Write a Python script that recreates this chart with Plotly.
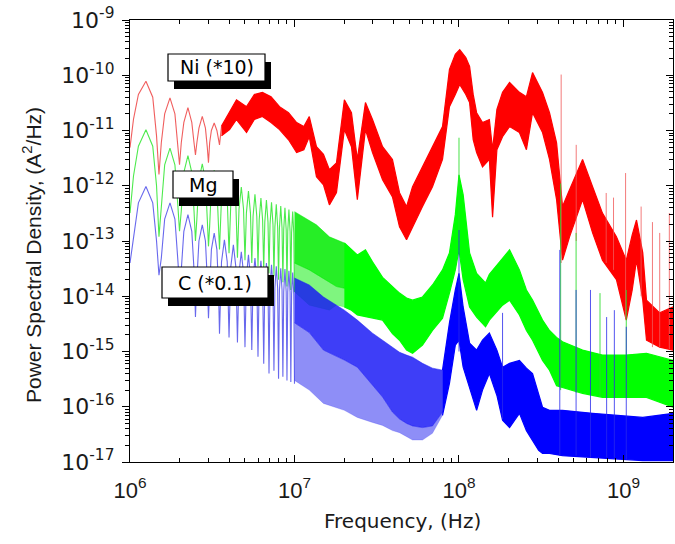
import plotly.graph_objects as go

# ---------------- data ----------------
# Ni (*10): low-frequency lobes
ni_lobe_f = [1.0e6, 1.05e6, 1.125e6, 1.25e6, 1.375e6, 1.45e6, 1.5e6,
             1.55e6, 1.625e6, 1.75e6, 1.875e6, 1.95e6, 2.0e6,
             2.05e6, 2.125e6, 2.25e6, 2.375e6, 2.45e6, 2.5e6,
             2.55e6, 2.625e6, 2.75e6, 2.875e6, 2.95e6, 3.0e6,
             3.05e6, 3.125e6, 3.25e6, 3.375e6, 3.45e6, 3.5e6, 3.6e6]
ni_lobe_p = [4.9e-12, 1.6e-11, 4.5e-11, 7.8e-11, 4.0e-11, 8e-12, 1.6e-12,
             6e-12, 2.0e-11, 3.9e-11, 2.0e-11, 6e-12, 2.4e-12,
             6e-12, 1.4e-11, 2.6e-11, 1.4e-11, 6e-12, 3.6e-12,
             6e-12, 1.1e-11, 1.8e-11, 1.1e-11, 5e-12, 2.6e-12,
             6e-12, 1.0e-11, 1.37e-11, 1.0e-11, 7e-12, 5.5e-12, 1.2e-11]
# Ni (*10): noisy band (upper / lower envelope)
ni_band_f = [3.6e6, 4.03e6, 4.44e6, 5.11e6, 5.7e6, 6.38e6, 7.2e6, 8.11e6, 9.2e6, 1.03e7,
             1.14e7, 1.23e7, 1.36e7, 1.5e7, 1.63e7, 1.8e7, 2.01e7, 2.22e7, 2.41e7, 2.7e7,
             2.98e7, 3.43e7, 3.94e7, 4.35e7, 4.8e7, 5.22e7, 6.0e7, 6.9e7, 7.94e7, 8.75e7,
             9.5e7, 1.01e8, 1.1e8, 1.16e8, 1.22e8, 1.28e8, 1.39e8, 1.53e8, 1.6e8, 1.7e8,
             1.84e8, 2.03e8, 2.33e8, 2.57e8, 2.8e8, 3.22e8, 3.55e8, 3.92e8, 4.26e8, 4.7e8,
             5.64e8, 6.49e8, 7.45e8, 9.06e8, 1.04e9, 1.13e9, 1.2e9, 1.31e9, 1.38e9, 1.66e9, 2.0e9]
ni_upper = [1.2e-11, 2.1e-11, 3.6e-11, 2.7e-11, 4.5e-11, 4.9e-11, 4.1e-11, 2.7e-11, 2.1e-11, 1.39e-11,
            1.18e-11, 1.79e-11, 5.1e-12, 3.7e-12, 1.95e-12, 2.6e-12, 3.6e-11, 2.1e-11, 3.0e-12, 3.2e-11,
            1.58e-11, 5.1e-12, 3.0e-12, 7.5e-13, 4.2e-13, 9.6e-13, 2.2e-12, 5.1e-12, 1.18e-11, 1.27e-10,
            2.4e-10, 2.9e-10, 2.1e-10, 1.45e-10, 4.5e-11, 2.1e-11, 1.39e-11, 1.58e-11, 4.5e-12, 2.4e-11,
            4.9e-11, 7.4e-11, 4.9e-11, 4.1e-11, 1.12e-10, 4.9e-11, 2.1e-11, 6.0e-12, 4.2e-13, 8.5e-13,
            3.0e-12, 9.6e-13, 3.2e-13, 1.19e-13, 4.5e-14, 1.29e-13, 2.4e-13, 6.1e-14, 8.5e-15, 5.0e-15, 6.4e-15]
ni_lower = [8e-12, 1.04e-11, 1.58e-11, 9.2e-12, 1.58e-11, 1.79e-11, 1.39e-11, 1.04e-11, 6.8e-12, 4.0e-12,
            4.5e-12, 7.7e-12, 1.46e-12, 1.04e-12, 4.5e-13, 7.5e-13, 1.04e-11, 5.1e-12, 5.6e-13, 1.04e-11,
            4.0e-12, 1.28e-12, 6.3e-13, 1.8e-13, 1.05e-13, 1.8e-13, 4.2e-13, 9.6e-13, 3.0e-12, 2.7e-11,
            4.5e-11, 6.8e-11, 4.5e-11, 3.2e-11, 6.8e-12, 4.0e-12, 2.2e-12, 3.0e-12, 2.7e-13, 4.5e-12,
            7.7e-12, 1.18e-11, 9.2e-12, 4.5e-12, 2.1e-11, 9.2e-12, 3.0e-12, 5.6e-13, 4.5e-14, 1.19e-13,
            5.6e-13, 1.4e-13, 4.5e-14, 2.0e-14, 3.7e-15, 1.3e-14, 4.5e-14, 8.5e-15, 1.6e-15, 1.2e-15, 1.06e-15]
ni_spike_f = [4.18e8, 5.16e8, 7.85e8, 8.7e8, 1.03e9, 1.28e9, 1.5e9, 1.66e9, 1.9e9]
ni_spike_top = [1.03e-10, 5.5e-12, 7.4e-13, 6.1e-13, 1.7e-12, 4.2e-13, 2.2e-13, 1.4e-13, 3.2e-13]
ni_spike_base = [4e-14, 1e-13, 4e-14, 3e-14, 4e-15, 1e-14, 1.2e-15, 1.2e-15, 1.1e-15]

# Mg: low-frequency lobes
mg_lobe_f = [1.0e6, 1.05e6, 1.125e6, 1.25e6, 1.375e6, 1.45e6, 1.5e6,
             1.55e6, 1.625e6, 1.75e6, 1.875e6, 1.95e6, 2.0e6,
             2.05e6, 2.125e6, 2.25e6, 2.375e6, 2.45e6, 2.5e6,
             2.55e6, 2.625e6, 2.75e6, 2.875e6, 2.95e6, 3.0e6,
             3.05e6, 3.125e6, 3.25e6, 3.375e6, 3.45e6, 3.5e6,
             3.6e6, 3.75e6, 3.9e6, 4.0e6, 4.1e6, 4.25e6, 4.4e6, 4.5e6,
             4.6e6, 4.75e6, 4.9e6, 5.0e6, 5.1e6, 5.25e6, 5.4e6, 5.5e6,
             5.6e6, 5.75e6, 5.9e6, 6.0e6, 6.1e6, 6.25e6, 6.4e6, 6.5e6,
             6.6e6, 6.75e6, 6.9e6, 7.0e6, 7.1e6, 7.25e6, 7.4e6, 7.5e6,
             7.6e6, 7.75e6, 7.9e6, 8.0e6, 8.1e6, 8.25e6, 8.4e6, 8.5e6,
             8.6e6, 8.75e6, 8.9e6, 9.0e6, 9.1e6, 9.25e6, 9.4e6, 9.5e6,
             9.6e6, 9.75e6, 9.9e6, 1.0e7]
mg_lobe_p = [3.2e-13, 1.5e-12, 5.2e-12, 1.03e-11, 5.2e-12, 1.0e-12, 1.2e-13,
             4.8e-13, 2.4e-12, 4.8e-12, 2.4e-12, 4.8e-13, 1.5e-13,
             3.5e-13, 1.75e-12, 3.5e-12, 1.75e-12, 3.5e-13, 1.0e-13,
             2.5e-13, 1.25e-12, 2.5e-12, 1.25e-12, 2.5e-13, 8e-14,
             1.9e-13, 9.5e-13, 1.9e-12, 9.5e-13, 1.9e-13, 7e-14,
             6e-13, 1.5e-12, 6e-13, 6e-14, 4.8e-13, 1.2e-12, 4.8e-13, 5e-14,
             3.8e-13, 9.5e-13, 3.8e-13, 4.5e-14, 3.2e-13, 8e-13, 3.2e-13, 4e-14,
             2.8e-13, 7e-13, 2.8e-13, 3.5e-14, 2.4e-13, 6e-13, 2.4e-13, 3e-14,
             2.2e-13, 5.5e-13, 2.2e-13, 2.6e-14, 2e-13, 5e-13, 2e-13, 2.3e-14,
             1.8e-13, 4.6e-13, 1.8e-13, 2e-14, 1.7e-13, 4.3e-13, 1.7e-13, 1.8e-14,
             1.6e-13, 4e-13, 1.6e-13, 1.5e-14, 1.5e-13, 3.7e-13, 1.5e-13, 1.3e-14,
             1.4e-13, 3.4e-13, 1.4e-13, 1.2e-14]
# Mg: dense-lobe region (upper / mid / lower)
mg_dense_f = [1.0e7, 1.23e7, 1.36e7, 1.63e7, 1.8e7, 2.01e7, 2.22e7]
mg_dense_upper = [3.4e-13, 2.4e-13, 1.96e-13, 1.19e-13, 1.05e-13, 9.2e-14, 6.9e-14]
mg_dense_mid = [4e-14, 3e-14, 2.5e-14, 1.8e-14, 1.5e-14, 1.4e-14, 1.2e-14]
mg_dense_lower = [1.2e-14, 6.9e-15, 6.4e-15, 5.6e-15, 6.9e-15, 6.4e-15, 5.6e-15]
# Mg: noisy band
mg_band_f = [2.01e7, 2.22e7, 2.41e7, 2.7e7, 2.98e7, 3.43e7, 3.94e7, 4.35e7, 4.8e7, 5.22e7,
             6.0e7, 6.9e7, 7.94e7, 8.75e7, 9.5e7, 1.0e8, 1.06e8, 1.16e8, 1.28e8, 1.45e8,
             1.53e8, 1.84e8, 2.03e8, 2.33e8, 2.57e8, 2.8e8, 3.22e8, 3.55e8, 3.92e8, 4.26e8,
             5.64e8, 7.45e8, 1.04e9, 1.38e9, 2.0e9]
mg_upper = [9.2e-14, 6.9e-14, 5.6e-14, 6.9e-14, 4.2e-14, 2.2e-14, 1.47e-14, 1.14e-14, 9.3e-15, 8.5e-15,
            9.7e-15, 1.6e-14, 3.0e-14, 6.1e-14, 3.0e-13, 1.58e-12, 6.9e-13, 6.1e-14, 2.6e-14, 1.74e-14,
            2.5e-14, 4.9e-14, 6.9e-14, 3.0e-14, 1.3e-14, 8.5e-15, 3.7e-15, 2.4e-15, 1.8e-15, 1.5e-15,
            1.06e-15, 8.6e-16, 8.6e-16, 9.3e-16, 6.9e-16]
mg_lower = [6.4e-15, 5.6e-15, 4.6e-15, 4.2e-15, 4.0e-15, 3.7e-15, 2.1e-15, 1.6e-15, 1.06e-15, 9.3e-16,
            1.3e-15, 2.4e-15, 4.0e-15, 1.14e-14, 3.0e-14, 6.9e-14, 2.0e-14, 6.4e-15, 4.2e-15, 2.8e-15,
            3.7e-15, 6.9e-15, 8.5e-15, 4.6e-15, 2.4e-15, 1.6e-15, 6.9e-16, 4.6e-16, 2.4e-16, 2.2e-16,
            1.75e-16, 1.48e-16, 1.48e-16, 1.48e-16, 9.8e-17]
mg_spike_f = [1.0e8, 4.15e8, 5.15e8, 7.2e8, 1.04e9]
mg_spike_top = [7.4e-12, 1.1e-12, 1.4e-13, 1.14e-14, 1.3e-14]
mg_spike_base = [1e-13, 2e-16, 1.8e-16, 1.5e-16, 1.5e-16]

# C (*0.1): low-frequency lobes (same frequency points as Mg)
c_lobe_f = mg_lobe_f
c_lobe_p = [4.0e-14, 1.1e-13, 4.9e-13, 9.7e-13, 4.9e-13, 1.0e-13, 2.4e-14,
            4.9e-14, 2.5e-13, 4.9e-13, 2.5e-13, 4.9e-14, 1.6e-14,
            3.0e-14, 1.5e-13, 3.0e-13, 1.5e-13, 3.0e-14, 4.2e-15,
            2.0e-14, 1.0e-13, 1.96e-13, 1.0e-13, 2.0e-14, 4.0e-15,
            1.4e-14, 7e-14, 1.39e-13, 7e-14, 1.4e-14, 2.1e-15,
            4.2e-14, 1.05e-13, 4.2e-14, 1.8e-15, 3.4e-14, 8.5e-14, 3.4e-14, 1.45e-15,
            2.6e-14, 6.4e-14, 2.6e-14, 1.2e-15, 2.2e-14, 5.6e-14, 2.2e-14, 1.06e-15,
            2.0e-14, 4.9e-14, 2.0e-14, 8e-16, 1.8e-14, 4.4e-14, 1.8e-14, 6e-16,
            1.6e-14, 4.0e-14, 1.6e-14, 4e-16, 1.5e-14, 3.7e-14, 1.5e-14, 4.5e-16,
            1.4e-14, 3.5e-14, 1.4e-14, 3.2e-16, 1.3e-14, 3.2e-14, 1.3e-14, 3.5e-16,
            1.2e-14, 3.1e-14, 1.2e-14, 3e-16, 1.2e-14, 2.9e-14, 1.2e-14, 2.8e-16,
            1.1e-14, 2.7e-14, 1.1e-14, 2.6e-16]
# C: dense-lobe region (upper / mid / lower)
c_dense_f = [1.0e7, 1.23e7, 1.5e7, 2.01e7, 2.41e7, 2.98e7, 3.43e7, 3.94e7, 4.35e7, 4.8e7,
             5.22e7, 6.0e7, 6.9e7, 7.94e7]
c_dense_upper = [2.14e-14, 1.6e-14, 9.7e-15, 5.6e-15, 3.7e-15, 2.15e-15, 1.6e-15, 1.2e-15, 9.7e-16, 8.6e-16,
                 7.9e-16, 6.1e-16, 5.0e-16, 4.6e-16]
c_dense_mid = [3.3e-15, 2.2e-15, 1.06e-15, 7.0e-16, 5.2e-16, 2.5e-16, 1.5e-16, 8.0e-17, 6.0e-17, 5.0e-17,
               4.5e-17, 4.2e-17, 4.5e-17, 8.0e-17]
c_dense_lower = [3.0e-16, 2.0e-16, 1.15e-16, 8.6e-17, 6.4e-17, 5.2e-17, 4.6e-17, 3.7e-17, 3.4e-17, 2.9e-17,
                 2.5e-17, 2.5e-17, 3.3e-17, 7.0e-17]
# C: noisy band
c_band_f = [7.94e7, 8.75e7, 9.5e7, 1.0e8, 1.06e8, 1.16e8, 1.28e8, 1.39e8, 1.53e8, 1.7e8, 1.84e8,
            2.03e8, 2.33e8, 2.57e8, 2.8e8, 3.05e8, 3.22e8, 3.55e8, 4.26e8, 6.49e8, 1.31e9, 2.0e9]
c_upper = [4.6e-16, 3.3e-15, 1.3e-14, 2.6e-14, 6.4e-15, 1.42e-15, 1.06e-15, 1.6e-15, 2.15e-15, 1.06e-15, 5.2e-16,
           6.1e-16, 6.9e-16, 5.0e-16, 4.0e-16, 1.6e-16, 9.8e-17, 8.6e-17, 8.6e-17, 7.6e-17, 6.4e-17, 7.6e-17]
c_lower = [7.0e-17, 2.66e-16, 1.3e-15, 1.6e-15, 5.2e-16, 2.25e-16, 8.6e-17, 2.0e-16, 4.0e-16, 1.6e-16, 5.7e-17,
           4.2e-17, 7.6e-17, 3.7e-17, 2.5e-17, 1.62e-17, 1.43e-17, 1.43e-17, 1.3e-17, 1.2e-17, 1.06e-17, 1.06e-17]
c_spike_f = [1.0e8, 1.84e8, 4.1e8, 5.15e8, 6.3e8, 7.9e8, 8.8e8, 1.04e9]
c_spike_top = [1.58e-13, 5e-15, 6.9e-14, 1.3e-14, 1.3e-14, 4.2e-15, 5.6e-15, 2.8e-15]
c_spike_base = [1e-15, 6e-17, 1.3e-17, 1.3e-17, 1.2e-17, 1.2e-17, 1.2e-17, 1.1e-17]

x_tick_vals = [1e6, 1e7, 1e8, 1e9]
x_tick_text = ["10<sup>6</sup>", "10<sup>7</sup>", "10<sup>8</sup>", "10<sup>9</sup>"]
y_tick_vals = [1e-17, 1e-16, 1e-15, 1e-14, 1e-13, 1e-12, 1e-11, 1e-10, 1e-9]
y_tick_text = ["10<sup>-17</sup>", "10<sup>-16</sup>", "10<sup>-15</sup>", "10<sup>-14</sup>",
               "10<sup>-13</sup>", "10<sup>-12</sup>", "10<sup>-11</sup>", "10<sup>-10</sup>",
               "10<sup>-9</sup>"]
labels = ["Ni (*10)", "Mg", "C (*0.1)"]

# ---------------- figure ----------------
SANS = "Liberation Sans, Arial, sans-serif"
WIDE = "DejaVu Sans, Verdana, sans-serif"
fig = go.Figure()


def band(f, up, lo, color, width=0.8):
    fig.add_trace(go.Scatter(x=list(f) + list(f)[::-1], y=list(up) + list(lo)[::-1],
                             mode="lines", fill="toself", fillcolor=color,
                             line=dict(color=color, width=width),
                             hoverinfo="skip", showlegend=False))


def lobes(f, p, color):
    fig.add_trace(go.Scatter(x=f, y=p, mode="lines", line=dict(color=color, width=1.1),
                             hoverinfo="skip", showlegend=False))


def spikes(f, top, base, color, yaxis="y"):
    xs, ys = [], []
    for fi, t, b in zip(f, top, base):
        xs += [fi, fi, None]
        ys += [b, t, None]
    fig.add_trace(go.Scatter(x=xs, y=ys, mode="lines", line=dict(color=color, width=1),
                             hoverinfo="skip", showlegend=False, yaxis=yaxis))


# Ni
lobes(ni_lobe_f, ni_lobe_p, "rgba(235,40,40,0.75)")
band(ni_band_f, ni_upper, ni_lower, "#ff0000", 1.2)
spikes(ni_spike_f, ni_spike_top, ni_spike_base, "rgba(240,90,90,0.8)")
# Mg
lobes(mg_lobe_f, mg_lobe_p, "rgba(0,225,0,0.7)")
band(mg_dense_f, mg_dense_upper, mg_dense_mid, "rgba(0,235,0,0.85)", 0.6)
band(mg_dense_f, mg_dense_mid, mg_dense_lower, "rgba(0,235,0,0.5)", 0.4)
band(mg_band_f, mg_upper, mg_lower, "#00ff00", 1.2)
spikes(mg_spike_f, mg_spike_top, mg_spike_base, "rgba(40,220,40,0.85)")
# C
lobes(c_lobe_f, c_lobe_p, "rgba(40,40,230,0.7)")
band(c_dense_f, c_dense_upper, c_dense_mid, "rgba(20,20,245,0.82)", 0.6)
band(c_dense_f, c_dense_mid, c_dense_lower, "rgba(50,50,240,0.55)", 0.4)
band(c_band_f, c_upper, c_lower, "#0000ff", 1.2)
spikes(c_spike_f, c_spike_top, c_spike_base, "rgba(40,40,235,0.8)", yaxis="y2")

# minor tick positions (axis decoration)
x_minor = [m * 10 ** e for e in range(6, 10) for m in range(2, 10) if m * 10 ** e <= 2e9]
y_minor = [m * 10.0 ** e for e in range(-17, -9) for m in range(2, 10)]

fig.update_layout(
    width=675, height=544,
    margin=dict(l=130, r=2, t=20, b=82, autoexpand=False),
    paper_bgcolor="white", plot_bgcolor="white",
    font=dict(family=SANS, color="#1a1a1a"),
    showlegend=False,
    xaxis=dict(type="log", range=[6, 9.30103], showgrid=False, zeroline=False, automargin=False,
               showline=True, linecolor="black", linewidth=1.3, mirror="ticks",
               ticks="inside", ticklen=7, tickwidth=1.2, tickcolor="black",
               tickmode="array", tickvals=x_tick_vals, ticktext=x_tick_text,
               tickfont=dict(family=SANS, size=22, color="#1a1a1a"), ticklabelstandoff=8,
               minor=dict(tickmode="array", tickvals=x_minor, ticks="inside",
                          ticklen=4, tickwidth=1, tickcolor="black", showgrid=False)),
    yaxis=dict(type="log", range=[-17, -9], showgrid=False, zeroline=False, automargin=False,
               showline=True, linecolor="black", linewidth=1.3, mirror=True,
               ticks="outside", ticklen=7, tickwidth=1.2, tickcolor="black",
               tickmode="array", tickvals=y_tick_vals, ticktext=y_tick_text,
               tickfont=dict(family=WIDE, size=22, color="#1a1a1a"), ticklabelstandoff=3,
               minor=dict(tickmode="array", tickvals=y_minor, ticks="outside",
                          ticklen=4, tickwidth=1, tickcolor="black", showgrid=False)),
    yaxis2=dict(type="log", range=[-17, -9], overlaying="y", side="right", automargin=False,
                showgrid=False, zeroline=False, showline=False, showticklabels=False,
                ticks="inside", ticklen=7, tickwidth=1.2, tickcolor="black",
                tickmode="array", tickvals=y_tick_vals,
                minor=dict(tickmode="array", tickvals=y_minor, ticks="inside",
                           ticklen=4, tickwidth=1, tickcolor="black", showgrid=False)),
)

# ---------------- labels with shadow boxes ----------------
PL, PR, PT, PB = 130, 673, 20, 462


def pxx(x):
    return (x - PL) / (PR - PL)


def pxy(y):
    return (PB - y) / (PB - PT)


boxes = [(168, 54, 265, 81), (173, 171, 233, 198), (162, 267, 268, 298)]
SH_DX, SH_DY = 6, 8
for (x0, y0, x1, y1), txt in zip(boxes, labels):
    fig.add_shape(type="rect", xref="paper", yref="paper",
                  x0=pxx(x0 + SH_DX), x1=pxx(x1 + SH_DX), y0=pxy(y1 + SH_DY), y1=pxy(y0 + SH_DY),
                  fillcolor="black", line=dict(color="black", width=0), layer="above")
    fig.add_shape(type="rect", xref="paper", yref="paper",
                  x0=pxx(x0), x1=pxx(x1), y0=pxy(y1), y1=pxy(y0),
                  fillcolor="white", line=dict(color="black", width=1.2), layer="above")
    fig.add_annotation(xref="paper", yref="paper", x=pxx((x0 + x1) / 2), y=pxy((y0 + y1) / 2),
                       text=txt, showarrow=False, xanchor="center", yanchor="middle",
                       font=dict(family=WIDE, size=19, color="black"))

# axis titles
fig.add_annotation(xref="paper", yref="paper", x=pxx(402), y=pxy(521),
                   text="Frequency, (Hz)", showarrow=False, xanchor="center", yanchor="middle",
                   font=dict(family=WIDE, size=20, color="#1a1a1a"))
fig.add_annotation(xref="paper", yref="paper", x=pxx(32), y=pxy(255),
                   text="Power Spectral Density, (A<sup>2</sup>/Hz)", showarrow=False,
                   textangle=-90, xanchor="center", yanchor="middle",
                   font=dict(family=SANS, size=21, color="#1a1a1a"))

# remove the default page margin so the figure sits at the window's top-left corner
fig.write_html("out.html", config={"displayModeBar": False},
               post_script="document.body.style.margin='0';")
